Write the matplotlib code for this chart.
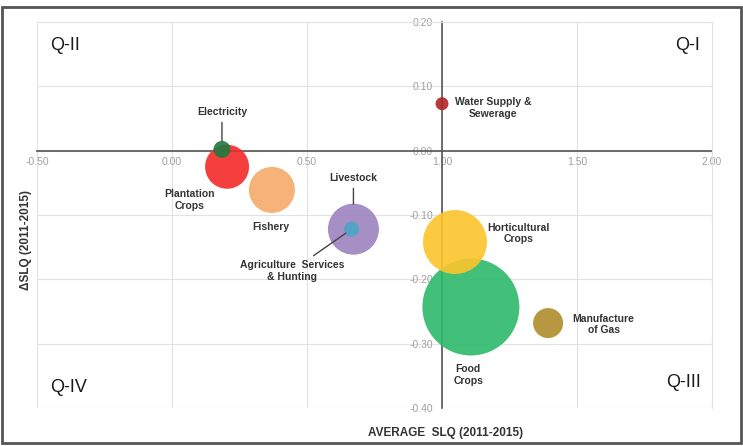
import matplotlib.pyplot as plt
from matplotlib.patches import Rectangle

plt.rcParams['font.family'] = ['Liberation Sans', 'DejaVu Sans']

# sectors, drawn in this order (later ones on top)
sectors = ['Food\nCrops', 'Horticultural\nCrops', 'Plantation\nCrops', 'Electricity',
           'Fishery', 'Livestock', 'Agriculture  Services\n& Hunting',
           'Water Supply &\nSewerage', 'Manufacture\nof Gas']
avg_slq = [1.107, 1.048, 0.204, 0.185, 0.370, 0.672, 0.665, 1.00, 1.393]
delta_slq = [-0.243, -0.142, -0.025, 0.002, -0.061, -0.122, -0.122, 0.073, -0.268]
weight = [23.5, 10.24, 4.84, 0.72, 5.29, 6.5, 0.56, 0.42, 2.25]
colors = ['#2dba6c', '#fcc52c', '#f42a2a', '#1e7a40', '#f6aa68', '#9c83be',
          '#4aa6c6', '#b32424', '#b08c2a']

# label offsets in points, and whether a leader line is drawn
offsets = [(-2, -49), (46, 6), (-27, -24), (0, 27), (-1, -27), (0, 37), (-43, -30), (37, -3), (40, -1)]
leaders = [False, False, False, True, False, True, True, False, False]
shrink = [0, 0, 0, 6, 0, 18, 5, 0, 0]

xticks = [-0.5, 0.0, 0.5, 1.0, 1.5, 2.0]
yticks = [-0.4, -0.3, -0.2, -0.1, 0.0, 0.1, 0.2]

fig = plt.figure(figsize=(7.43, 4.46), dpi=100)
ax = fig.add_axes([37 / 743, 38 / 446, 675 / 743, 386 / 446])

sizes = [w * 207.4 for w in weight]
for i in range(len(sectors)):
    ax.scatter(avg_slq[i], delta_slq[i], s=sizes[i], color=colors[i], alpha=0.9,
               edgecolors='none', zorder=3 + i)
    if leaders[i]:
        ax.annotate(sectors[i], (avg_slq[i], delta_slq[i]), xytext=offsets[i],
                    textcoords='offset points', ha='center', va='center',
                    fontsize=7.5, fontweight='bold', color='#333333', zorder=20,
                    arrowprops=dict(arrowstyle='-', color='#444444', lw=1,
                                    shrinkA=2, shrinkB=shrink[i]))
    else:
        ax.annotate(sectors[i], (avg_slq[i], delta_slq[i]), xytext=offsets[i],
                    textcoords='offset points', ha='center', va='center',
                    fontsize=7.5, fontweight='bold', color='#333333', zorder=20)

ax.set_xlim(-0.5, 2.0)
ax.set_ylim(-0.4, 0.2)
ax.set_xticks(xticks)
ax.set_yticks(yticks)
ax.set_xticklabels(['%.2f' % v for v in xticks])
ax.set_yticklabels(['%.2f' % v for v in yticks])
ax.grid(True, color='#e2e2e2', lw=0.8, zorder=0)
ax.set_axisbelow(True)

ax.spines['left'].set_position(('data', 1.0))
ax.spines['bottom'].set_position(('data', 0.0))
for s in ['left', 'bottom']:
    ax.spines[s].set_color('#555555')
    ax.spines[s].set_linewidth(1.2)
    ax.spines[s].set_zorder(2)
for s in ['top', 'right']:
    ax.spines[s].set_color('#e2e2e2')
    ax.spines[s].set_linewidth(0.8)
ax.tick_params(axis='x', length=0, pad=4.5, labelsize=7.5, labelcolor='#a0a0a0')
ax.tick_params(axis='y', length=0, pad=6.5, labelsize=7.5, labelcolor='#a0a0a0')

ax.text(0.02, 0.938, 'Q-II', transform=ax.transAxes, fontsize=13, va='center', ha='left', color='#1a1a1a')
ax.text(0.982, 0.938, 'Q-I', transform=ax.transAxes, fontsize=13, va='center', ha='right', color='#1a1a1a')
ax.text(0.02, 0.052, 'Q-IV', transform=ax.transAxes, fontsize=13, va='center', ha='left', color='#1a1a1a')
ax.text(0.984, 0.065, 'Q-III', transform=ax.transAxes, fontsize=13, va='center', ha='right', color='#1a1a1a')

fig.text(446 / 743, 1 - 433 / 446, 'AVERAGE  SLQ (2011-2015)', ha='center', va='center',
         fontsize=8.5, fontweight='bold', color='#333333')
fig.text(26 / 743, 1 - 240 / 446, '\u0394SLQ (2011-2015)', ha='center', va='center',
         rotation=90, fontsize=8.5, fontweight='bold', color='#333333')

fig.patches.append(Rectangle((1.5 / 743, 3 / 446), 739.5 / 743, 436 / 446, transform=fig.transFigure,
                             fill=False, edgecolor='#555555', lw=2))

fig.savefig('out.png', dpi=100)
